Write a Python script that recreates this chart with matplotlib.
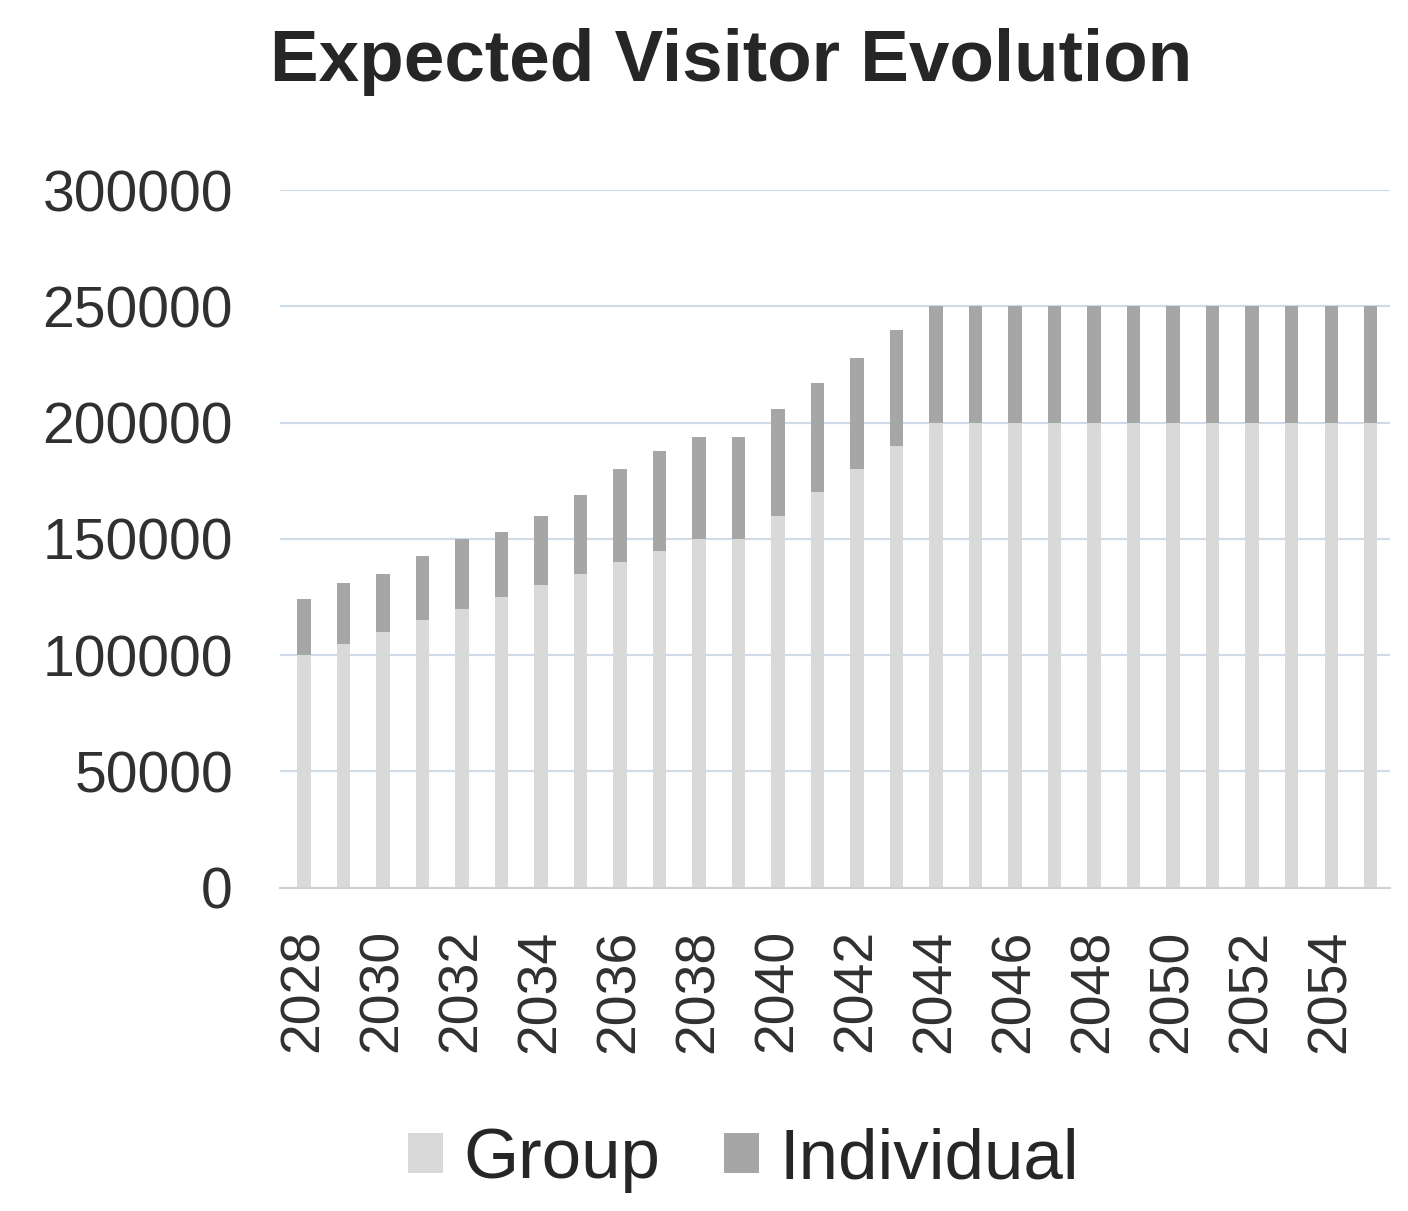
import numpy as np
import matplotlib.pyplot as plt

years = list(range(2028, 2056))
group = [100000, 105000, 110000, 115000, 120000, 125000, 130000, 135000,
         140000, 145000, 150000, 150000, 160000, 170000, 180000, 190000,
         200000, 200000, 200000, 200000, 200000, 200000, 200000, 200000,
         200000, 200000, 200000, 200000]
individual = [24000, 26000, 25000, 27500, 30000, 28000, 30000, 34000,
              40000, 43000, 44000, 44000, 46000, 47000, 48000, 50000,
              50000, 50000, 50000, 50000, 50000, 50000, 50000, 50000,
              50000, 50000, 50000, 50000]
y_ticks = [0, 50000, 100000, 150000, 200000, 250000, 300000]

plt.rcParams['font.family'] = ['Liberation Sans', 'DejaVu Sans']

fig = plt.figure(figsize=(14.08, 12.11), dpi=100)
ax = fig.add_axes([0.199, 0.267, 0.788, 0.576])

x = np.arange(len(years))
ax.bar(x, group, width=0.34, color='#d9d9d9', label='Group', zorder=2)
ax.bar(x, individual, bottom=group, width=0.34, color='#a6a6a6',
       label='Individual', zorder=2)

ax.set_ylim(0, 300000)
ax.set_xlim(-0.6, len(years) - 0.52)
ax.set_yticks(y_ticks)
ax.set_yticklabels([str(v) for v in y_ticks])
ax.set_xticks(x[::2])
ax.set_xticklabels([str(y) for y in years[::2]], rotation=90)

ax.tick_params(axis='y', length=0, pad=34, labelsize=41, labelcolor='#303030')
ax.tick_params(axis='x', length=0, pad=30, labelsize=40, labelcolor='#303030')

ax.grid(axis='y', color='#cfdce8', linewidth=1.6, zorder=0)
ax.set_axisbelow(True)
for side in ['left', 'right', 'top']:
    ax.spines[side].set_visible(False)
ax.spines['bottom'].set_color('#d0d0d0')
ax.spines['bottom'].set_linewidth(1.5)

fig.text(0.519, 0.949, 'Expected Visitor Evolution', ha='center', va='center',
         fontsize=52.5, fontweight='bold', color='#262626')

fig.legend(loc='center', bbox_to_anchor=(0.528, 0.042), ncol=2, frameon=False,
           prop={'size': 51}, labelcolor='#262626',
           handlelength=0.5, handleheight=0.5,
           handletextpad=0.28, columnspacing=0.9)

fig.savefig('out.png', dpi=100)
